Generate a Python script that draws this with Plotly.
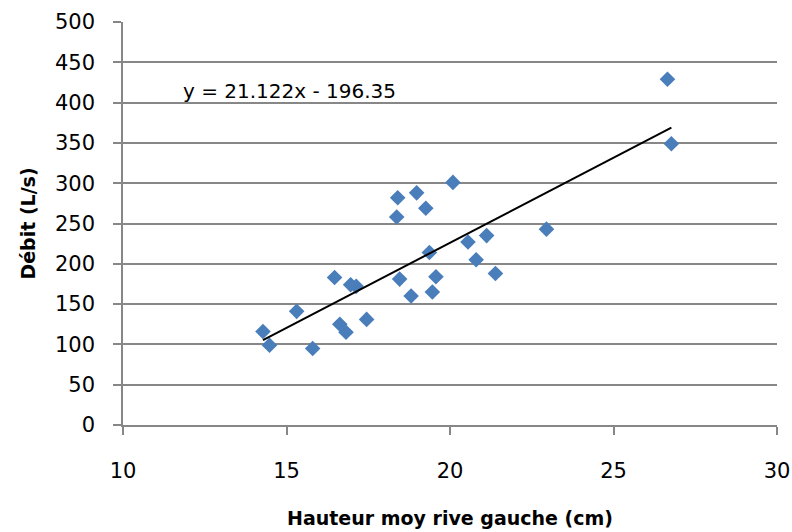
import plotly.graph_objects as go

# Data
hauteur = [14.28, 14.48, 15.31, 15.80, 16.47, 16.63, 16.82, 16.96, 17.13, 17.45,
           18.37, 18.40, 18.46, 18.81, 18.98, 19.26, 19.37, 19.46, 19.57, 20.09,
           20.55, 20.80, 21.12, 21.39, 22.95, 26.65, 26.77]
debit = [116, 99, 141, 95, 183, 125, 115, 174, 172, 131,
         258, 282, 181, 160, 288, 269, 214, 165, 184, 301,
         227, 205, 235, 188, 243, 429, 349]

slope = 21.122
intercept = -196.35
equation_label = "y = 21.122x - 196.35"

x_ticks = [10, 15, 20, 25, 30]
y_ticks = [0, 50, 100, 150, 200, 250, 300, 350, 400, 450, 500]

x_min, x_max = min(hauteur), max(hauteur)
trend_x = [x_min, x_max]
trend_y = [slope * v + intercept for v in trend_x]

FONT = "DejaVu Sans"
GRID = "#878787"

fig = go.Figure()
fig.add_trace(go.Scatter(
    x=hauteur, y=debit, mode="markers",
    marker=dict(symbol="diamond", size=12, color="#4A7EBB", line=dict(width=0)),
    showlegend=False, hoverinfo="x+y"))
fig.add_trace(go.Scatter(
    x=trend_x, y=trend_y, mode="lines",
    line=dict(color="black", width=2), showlegend=False, hoverinfo="skip"))

fig.add_annotation(x=15.1, y=415, xref="x", yref="y", text=equation_label,
                   showarrow=False, xanchor="center", yanchor="middle",
                   font=dict(family=FONT, size=20, color="black"))

fig.update_layout(
    width=792, height=532,
    margin=dict(l=123, r=15, t=22, b=107, autoexpand=False),
    paper_bgcolor="white", plot_bgcolor="white",
    font=dict(family=FONT, color="black"),
)
fig.update_xaxes(
    range=[10, 30], tickvals=x_ticks, ticktext=[str(t) for t in x_ticks],
    showgrid=False, zeroline=False, automargin=False,
    showline=True, linecolor=GRID, linewidth=1.5,
    ticks="outside", ticklen=8, tickcolor=GRID, tickwidth=1.5,
    ticklabelstandoff=18,
    tickfont=dict(family=FONT, size=21, color="black"),
    title=dict(text="<b>Hauteur moy rive gauche (cm)</b>", standoff=30,
               font=dict(family=FONT, size=19, color="black")),
)
fig.update_yaxes(
    range=[0, 500], tickvals=y_ticks, ticktext=[str(t) for t in y_ticks],
    showgrid=True, gridcolor=GRID, gridwidth=1.5, zeroline=False, automargin=False,
    showline=True, linecolor=GRID, linewidth=1.5,
    ticks="outside", ticklen=8, tickcolor=GRID, tickwidth=1.5,
    ticklabelstandoff=14,
    tickfont=dict(family=FONT, size=21, color="black"),
    title=dict(text="<b>Débit (L/s)</b>", standoff=14,
               font=dict(family=FONT, size=19, color="black")),
)

fig.write_html("out.html")
